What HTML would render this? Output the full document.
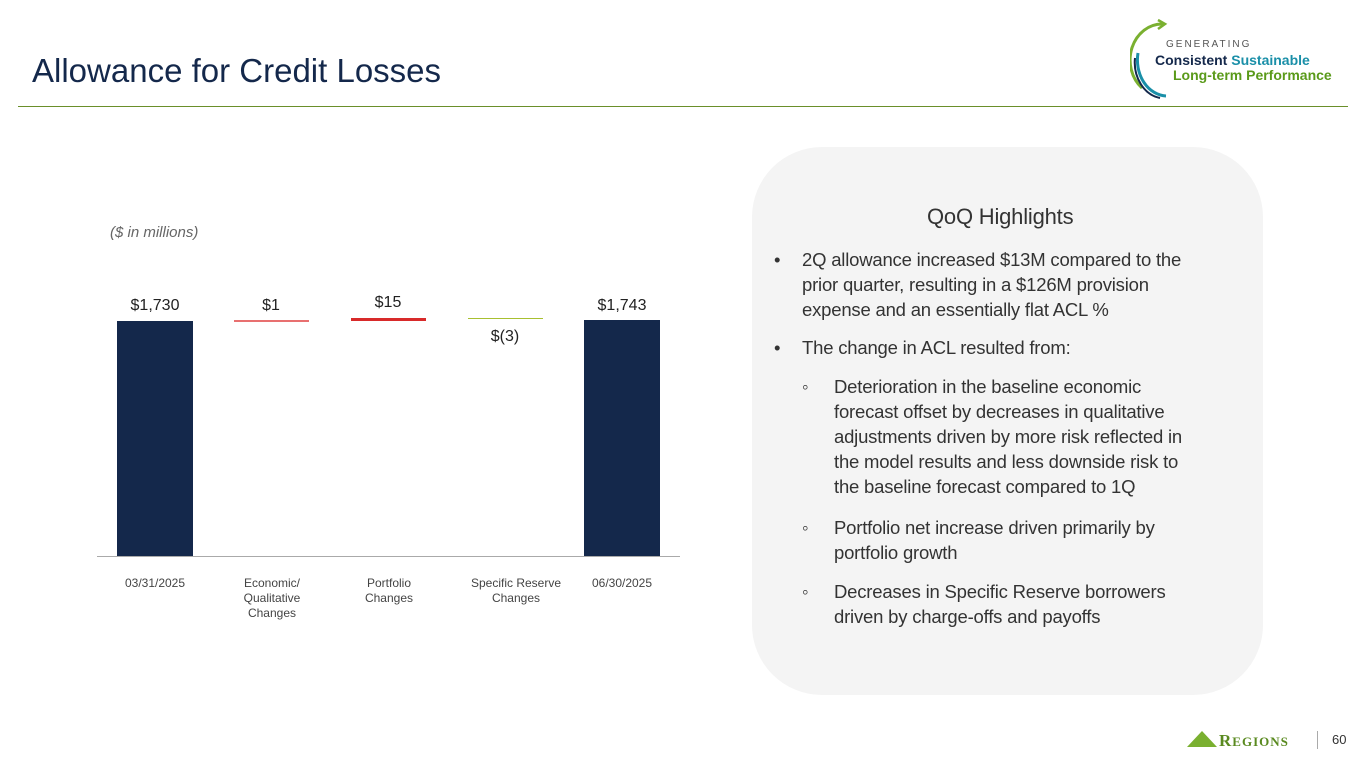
<!DOCTYPE html>
<html><head><meta charset="utf-8"><style>
body{margin:0;width:1365px;height:768px;background:#fff;position:relative;overflow:hidden;font-family:"Liberation Sans",sans-serif;color:#333}
.a{position:absolute}
.bar{position:absolute;background:#14284b}
.lab{position:absolute;font-size:16px;color:#222;text-align:center;width:100px}
.cat{position:absolute;font-size:12px;color:#444;text-align:center;width:120px;line-height:15px}
.box{position:absolute;left:752px;top:147px;width:511px;height:548px;background:#f4f4f4;border-radius:70px}
.t{position:absolute;font-size:18.5px;line-height:25px;color:#333;white-space:nowrap;letter-spacing:-0.2px}
</style></head><body>
<div class="a" style="left:32px;top:52px;font-size:33px;color:#14284b">Allowance for Credit Losses</div>
<div class="a" style="left:18px;top:106px;width:1330px;height:1px;background:#6a8f2a"></div>
<svg class="a" style="left:1130px;top:18px" width="40" height="82"><path d="M33 6 A32 36 0 0 0 12 70" fill="none" stroke="#7ab030" stroke-width="3"/><path d="M28 2 L35 6 L28 11" fill="none" stroke="#7ab030" stroke-width="2.5"/><path d="M8 35 A30 36 0 0 0 36 78" fill="none" stroke="#1a8fa8" stroke-width="3"/><path d="M5 40 A30 36 0 0 0 30 80" fill="none" stroke="#14284b" stroke-width="2"/></svg>
<div class="a" style="left:1166px;top:39px;font-size:10px;letter-spacing:2px;color:#555">GENERATING</div>
<div class="a" style="left:1155px;top:52px;font-size:14px;font-weight:bold;color:#14284b">Consistent <span style="color:#1a8fa8">Sustainable</span></div>
<div class="a" style="left:1173px;top:67px;font-size:14px;font-weight:bold;color:#5a9a1a">Long-term Performance</div>
<div class="a" style="left:110px;top:224px;font-size:15px;font-style:italic;color:#666">($ in millions)</div>
<div class="bar" style="left:117px;top:321px;width:76px;height:235px"></div>
<div class="bar" style="left:584px;top:320px;width:76px;height:236px"></div>
<div class="a" style="left:234px;top:320px;width:75px;height:2px;background:#e87070"></div>
<div class="a" style="left:351px;top:318px;width:75px;height:3px;background:#d82a2a"></div>
<div class="a" style="left:468px;top:318px;width:75px;height:1px;background:#a8c030"></div>
<div class="a" style="left:97px;top:556px;width:583px;height:1px;background:#aaa"></div>
<div class="lab" style="left:105px;top:297px">$1,730</div>
<div class="lab" style="left:221px;top:297px">$1</div>
<div class="lab" style="left:338px;top:294px">$15</div>
<div class="lab" style="left:455px;top:328px">$(3)</div>
<div class="lab" style="left:572px;top:297px">$1,743</div>
<div class="cat" style="left:95px;top:576px">03/31/2025</div>
<div class="cat" style="left:212px;top:576px">Economic/<br>Qualitative<br>Changes</div>
<div class="cat" style="left:329px;top:576px">Portfolio<br>Changes</div>
<div class="cat" style="left:456px;top:576px">Specific Reserve<br>Changes</div>
<div class="cat" style="left:562px;top:576px">06/30/2025</div>
<div class="box"></div>
<div class="t" style="left:927px;top:204px;font-size:22px">QoQ Highlights</div>
<div class="t" style="left:774px;top:247px">•</div>
<div class="t" style="left:802px;top:247px">2Q allowance increased $13M compared to the<br>prior quarter, resulting in a $126M provision<br>expense and an essentially flat ACL %</div>
<div class="t" style="left:774px;top:335px">•</div>
<div class="t" style="left:802px;top:335px">The change in ACL resulted from:</div>
<div class="t" style="left:802px;top:374px">◦</div>
<div class="t" style="left:834px;top:374px">Deterioration in the baseline economic<br>forecast offset by decreases in qualitative<br>adjustments driven by more risk reflected in<br>the model results and less downside risk to<br>the baseline forecast compared to 1Q</div>
<div class="t" style="left:802px;top:515px">◦</div>
<div class="t" style="left:834px;top:515px">Portfolio net increase driven primarily by<br>portfolio growth</div>
<div class="t" style="left:802px;top:579px">◦</div>
<div class="t" style="left:834px;top:579px">Decreases in Specific Reserve borrowers<br>driven by charge-offs and payoffs</div>
<svg class="a" style="left:1187px;top:729px" width="30" height="20"><polygon points="0,18 15,2 30,18" fill="#7ab030"/></svg>
<div class="a" style="left:1219px;top:731px;font-family:'Liberation Serif',serif;font-weight:bold;font-size:17px;color:#5a8a20;letter-spacing:1px">R<span style="font-size:13px">EGIONS</span></div>
<div class="a" style="left:1317px;top:731px;width:1px;height:18px;background:#aaa"></div>
<div class="a" style="left:1332px;top:732px;font-size:13px;color:#333">60</div>
</body></html>
